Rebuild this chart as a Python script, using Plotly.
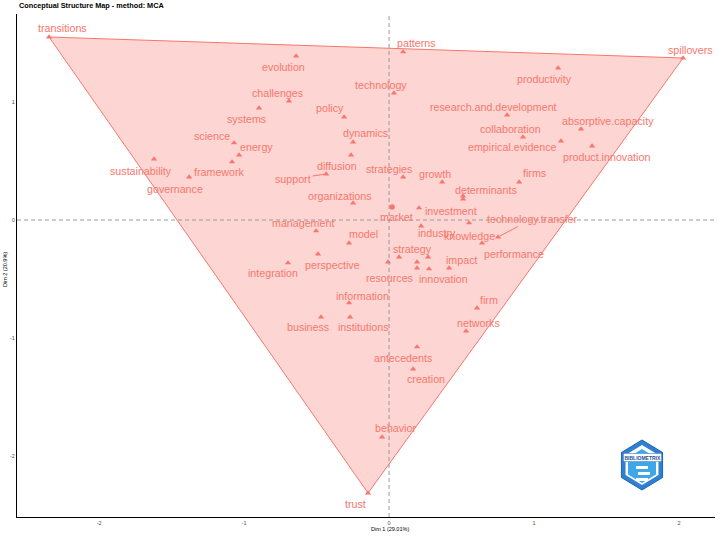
import plotly.graph_objects as go

# ---------------- data ----------------
words = [
    "transitions", "spillovers", "trust", "patterns", "productivity", "technology",
    "research.and.development", "collaboration", "empirical.evidence", "absorptive.capacity",
    "product.innovation", "evolution", "challenges", "systems", "science", "energy",
    "framework", "sustainability", "governance", "policy", "dynamics", "diffusion",
    "support", "organizations", "strategies", "growth", "firms", "determinants",
    "market", "investment", "industry", "knowledge", "technology.transfer", "performance",
    "management", "model", "perspective", "integration", "resources", "strategy",
    "impact", "innovation", "information", "business", "institutions", "firm",
    "networks", "antecedents", "creation", "behavior",
]
dim1 = [
    -2.345, 2.028, -0.145, 0.097, 1.166, 0.034,
    0.814, 0.924, 1.186, 1.324,
    1.400, -0.641, -0.690, -0.897, -1.069, -1.034,
    -1.083, -1.621, -1.379, -0.310, -0.248, -0.262,
    -0.434, -0.248, 0.097, 0.366, 0.897, 0.510,
    0.021, 0.207, 0.221, 0.552, 0.752, 0.641,
    -0.503, -0.276, -0.490, -0.697, -0.007, 0.069,
    0.414, 0.276, -0.276, -0.469, -0.269, 0.607,
    0.531, 0.193, 0.166, -0.048,
]
dim2 = [
    1.551, 1.373, -2.314, 1.424, 1.288, 1.076,
    0.890, 0.703, 0.669, 0.771,
    0.627, 1.390, 1.008, 0.949, 0.653, 0.551,
    0.492, 0.517, 0.364, 0.873, 0.661, 0.551,
    0.390, 0.144, 0.364, 0.322, 0.322, 0.178,
    0.110, 0.102, -0.051, -0.025, -0.144, -0.195,
    -0.093, -0.195, -0.288, -0.364, -0.356, -0.314,
    -0.407, -0.415, -0.703, -0.822, -0.822, -0.746,
    -0.941, -1.076, -1.263, -1.839,
]
# points whose labels were dropped by the label-repel step
hidden_dim1 = [0.193, 0.269, 0.193, 0.510]
hidden_dim2 = [-0.356, -0.314, -0.407, 0.203]

x_ticks = [-2, -1, 0, 1, 2]
y_ticks = [-2, -1, 0, 1]
x_title = "Dim 1 (29.01%)"
y_title = "Dim 2 (20.9%)"
chart_title = "Conceptual Structure Map - method: MCA"

# ---------------- label offsets (px) ----------------
label_offset = {
    "transitions": (13, -9), "spillovers": (7, -8), "trust": (-13, 11),
    "patterns": (13, -9), "productivity": (-14, 11), "technology": (-13, -8),
    "research.and.development": (-14, -8), "collaboration": (-13, -8),
    "empirical.evidence": (-49, 6), "absorptive.capacity": (27, -8),
    "product.innovation": (14, 11), "evolution": (-13, 11), "challenges": (-12, -8),
    "systems": (-12, 11), "science": (-22, -7), "energy": (17, -8),
    "framework": (-13, 10), "sustainability": (-13, 12), "governance": (-14, 12),
    "policy": (-14, -9), "dynamics": (12, -9), "diffusion": (-14, 11),
    "support": (-33, 5), "organizations": (-13, -7), "strategies": (-14, -8),
    "growth": (-7, -8), "firms": (15, -9), "determinants": (23, -9),
    "market": (4, 10), "investment": (32, 3), "industry": (16, 7),
    "knowledge": (0, 13), "technology.transfer": (34, -18), "performance": (32, 11),
    "management": (-13, -8), "model": (14, -9), "perspective": (14, 11),
    "integration": (-15, 10), "resources": (1, 16), "strategy": (13, -8),
    "impact": (13, -8), "innovation": (14, 10), "information": (13, -7),
    "business": (-13, 10), "institutions": (13, 10), "firm": (12, -8),
    "networks": (12, -8), "antecedents": (-14, 11), "creation": (13, 10),
    "behavior": (13, -9),
}
segment_labels = {"support", "technology.transfer"}

RED = "#F8766D"
FONT = "Liberation Sans, Arial, Helvetica, sans-serif"


def convex_hull(pts):
    pts = sorted(set(pts))
    if len(pts) <= 2:
        return pts

    def cross(o, a, b):
        return (a[0] - o[0]) * (b[1] - o[1]) - (a[1] - o[1]) * (b[0] - o[0])

    lower, upper = [], []
    for p in pts:
        while len(lower) >= 2 and cross(lower[-2], lower[-1], p) <= 0:
            lower.pop()
        lower.append(p)
    for p in reversed(pts):
        while len(upper) >= 2 and cross(upper[-2], upper[-1], p) <= 0:
            upper.pop()
        upper.append(p)
    return lower[:-1] + upper[:-1]


all_pts = list(zip(dim1 + hidden_dim1, dim2 + hidden_dim2))
hull = convex_hull(all_pts)
hull = hull + [hull[0]]

fig = go.Figure()
fig.add_trace(go.Scatter(
    x=[p[0] for p in hull], y=[p[1] for p in hull],
    mode="lines", fill="toself",
    fillcolor="rgba(248,118,109,0.3)",
    line=dict(color=RED, width=1),
    hoverinfo="skip", showlegend=False,
))

symbols = ["circle" if w == "market" else "triangle-up" for w in words]
fig.add_trace(go.Scatter(
    x=dim1, y=dim2, mode="markers", text=words,
    marker=dict(symbol=symbols, size=5.5, color=RED, line=dict(width=0)),
    hovertemplate="%{text}<extra></extra>", showlegend=False,
))
fig.add_trace(go.Scatter(
    x=hidden_dim1, y=hidden_dim2, mode="markers",
    marker=dict(symbol="triangle-up", size=5.5, color=RED, line=dict(width=0)),
    hoverinfo="skip", showlegend=False,
))

annotations = []
for w, xv, yv in zip(words, dim1, dim2):
    dx, dy = label_offset.get(w, (0, -10))
    seg = w in segment_labels
    annotations.append(dict(
        x=xv, y=yv, xref="x", yref="y", text=w,
        showarrow=True, ax=dx, ay=dy, axref="pixel", ayref="pixel",
        arrowhead=0, arrowwidth=1,
        arrowcolor=RED if seg else "rgba(0,0,0,0)",
        standoff=2 if seg else 0,
        font=dict(family=FONT, size=10.7, color=RED),
    ))

# title and axis titles
annotations.append(dict(
    text="<b>" + chart_title + "</b>", xref="paper", yref="paper",
    x=0.0, y=1.016, xanchor="left", yanchor="middle", showarrow=False,
    font=dict(family=FONT, size=7.3, color="#000000"),
))
annotations.append(dict(
    text=x_title, xref="paper", yref="paper",
    x=(390 - 17) / 698, y=-(529 - 517) / 503, xanchor="center", yanchor="middle",
    showarrow=False, font=dict(family=FONT, size=5.5, color="#000000"),
))
annotations.append(dict(
    text=y_title, xref="paper", yref="paper",
    x=-(17 - 5) / 698, y=(517 - 270) / 503, xanchor="center", yanchor="middle",
    textangle=-90, showarrow=False, font=dict(family=FONT, size=5.5, color="#000000"),
))

shapes = [
    dict(type="line", xref="x", yref="paper", x0=0, x1=0, y0=0, y1=1,
         line=dict(color="#9A9A9A", width=1, dash="4px,3px"), layer="above"),
    dict(type="line", xref="paper", yref="y", x0=0, x1=1, y0=0, y1=0,
         line=dict(color="#9A9A9A", width=1, dash="4px,3px"), layer="above"),
]


# ---- decorative logo (hexagon badge) in paper coordinates ----
def px_to_paper(px, py):
    return (px - 17) / 698, (517 - py) / 503


def hex_path(cx, cy, r):
    import math
    pts = []
    for k in range(6):
        a = math.radians(90 + 60 * k)
        pts.append(px_to_paper(cx + r * math.cos(a) * 0.95, cy - r * math.sin(a)))
    return "M " + " L ".join(f"{p[0]:.5f},{p[1]:.5f}" for p in pts) + " Z"


shapes.append(dict(type="path", xref="paper", yref="paper", path=hex_path(642, 465, 25),
                   fillcolor="#2F80D1", line=dict(color="#1B63B5", width=1)))
shapes.append(dict(type="path", xref="paper", yref="paper", path=hex_path(642, 465, 20),
                   fillcolor="#FFFFFF", line=dict(width=0)))
shapes.append(dict(type="path", xref="paper", yref="paper", path=hex_path(642, 466, 17),
                   fillcolor="#3FA6EA", line=dict(width=0)))
for (a, b, c, d) in [(636, 466, 648, 469), (638, 472, 650, 475), (636, 478, 648, 481)]:
    p0 = px_to_paper(a, b)
    p1 = px_to_paper(c, d)
    shapes.append(dict(type="rect", xref="paper", yref="paper", x0=p0[0], y0=p1[1],
                       x1=p1[0], y1=p0[1], fillcolor="#FFFFFF", line=dict(width=0)))
lx, ly = px_to_paper(642, 457)
annotations.append(dict(text="<b>BIBLIOMETRIX</b>", xref="paper", yref="paper", x=lx, y=ly,
                        xanchor="center", yanchor="middle", showarrow=False,
                        bgcolor="#FFFFFF", bordercolor="#1B63B5", borderwidth=0.5, borderpad=1,
                        font=dict(family=FONT, size=5, color="#1B4F9A")))

fig.update_layout(
    width=719, height=538,
    margin=dict(l=17, r=4, t=14, b=21, autoexpand=False),
    plot_bgcolor="#FFFFFF", paper_bgcolor="#FFFFFF",
    font=dict(family=FONT),
    annotations=annotations, shapes=shapes,
    showlegend=False,
)
fig.update_xaxes(
    range=[-2.566, 2.248], tickvals=x_ticks, ticktext=[str(v) for v in x_ticks],
    showgrid=False, zeroline=False, showline=True, linecolor="#000000", linewidth=1,
    ticks="", tickfont=dict(family=FONT, size=5.5, color="#4D4D4D"), automargin=False,
)
fig.update_yaxes(
    range=[-2.517, 1.746], tickvals=y_ticks, ticktext=[str(v) for v in y_ticks],
    showgrid=False, zeroline=False, showline=True, linecolor="#000000", linewidth=1,
    ticks="", tickfont=dict(family=FONT, size=5.5, color="#4D4D4D"), automargin=False,
)

fig.write_html(
    "out.html",
    config={"displayModeBar": False},
    post_script="document.body.style.margin='0';document.body.style.overflow='hidden';",
)
